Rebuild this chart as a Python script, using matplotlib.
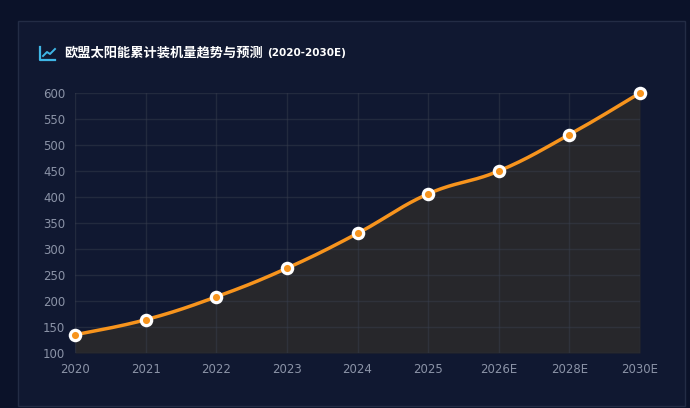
import numpy as np
import matplotlib
matplotlib.use("Agg")
import matplotlib.pyplot as plt
from matplotlib.patches import Rectangle
from matplotlib.lines import Line2D

plt.rcParams['font.family'] = ['Noto Sans CJK SC', 'DejaVu Sans']

categories = ["2020", "2021", "2022", "2023", "2024", "2025", "2026E", "2028E", "2030E"]
values = [135, 164, 208, 263, 330, 406, 450, 520, 600]
y_ticks = [100, 150, 200, 250, 300, 350, 400, 450, 500, 550, 600]
title = "欧盟太阳能累计装机量趋势与预测"
subtitle = "(2020-2030E)"

W, H = 690, 408
fig = plt.figure(figsize=(W / 100, H / 100), dpi=100)
fig.patch.set_facecolor("#0b1229")

# card panel
card = Rectangle((18 / W, 1 - 406 / H), (685 - 18) / W, (406 - 21) / H,
                 transform=fig.transFigure, facecolor="#101831",
                 edgecolor="#232c45", linewidth=1, zorder=-5)
fig.patches.append(card)

ax = fig.add_axes([75 / W, 1 - 353 / H, (640 - 75) / W, (353 - 93) / H])
ax.set_zorder(2)
ax.set_facecolor("none")
for s in ax.spines.values():
    s.set_visible(False)

x = np.arange(len(categories))
y = np.array(values, dtype=float)

# smooth rendering of the line (cubic bezier through the data points)
def smooth_path(xs, ys, t=0.2, n=30):
    px, py = [], []
    N = len(xs)
    for i in range(N - 1):
        x0, y0 = xs[i], ys[i]
        x1, y1 = xs[i + 1], ys[i + 1]
        xp, yp = (xs[i - 1], ys[i - 1]) if i > 0 else (x0, y0)
        xn, yn = (xs[i + 2], ys[i + 2]) if i + 2 < N else (x1, y1)
        c1 = (x0 + (x1 - xp) * t, y0 + (y1 - yp) * t)
        c2 = (x1 - (xn - x0) * t, y1 - (yn - y0) * t)
        s = np.linspace(0, 1, n, endpoint=(i == N - 2))
        bx = (1 - s) ** 3 * x0 + 3 * (1 - s) ** 2 * s * c1[0] + 3 * (1 - s) * s ** 2 * c2[0] + s ** 3 * x1
        by = (1 - s) ** 3 * y0 + 3 * (1 - s) ** 2 * s * c1[1] + 3 * (1 - s) * s ** 2 * c2[1] + s ** 3 * y1
        px.extend(bx)
        py.extend(by)
    return np.array(px), np.array(py)

sx, sy = smooth_path(x, y)

ax.fill_between(sx, sy, 100, color="#27272b", zorder=1, linewidth=0)

ax.set_xlim(0, len(categories) - 1)
ax.set_ylim(100, 600)
ax.set_yticks(y_ticks)
ax.set_xticks(x)
ax.set_xticklabels(categories)
ax.grid(True, color="#3a4050", alpha=0.45, linewidth=1, zorder=2)
ax.set_axisbelow(False)
ax.tick_params(axis="both", length=0, colors="#8b93a7", labelsize=8.5)
ax.tick_params(axis="x", pad=7)
ax.tick_params(axis="y", pad=7)
for lab in ax.get_xticklabels() + ax.get_yticklabels():
    lab.set_family(["DejaVu Sans"])

ax.plot(sx, sy, color="#f7941d", linewidth=2.5, zorder=3, solid_capstyle="round")
ax.scatter(x, y, s=95, color="white", zorder=4, linewidths=0, clip_on=False)
ax.scatter(x, y, s=26, color="#f7941d", zorder=5, linewidths=0, clip_on=False)

# title icon (line chart glyph)
ix0, iy0 = 40, 60
icon_axis = Line2D([ix0 / W, ix0 / W, (ix0 + 15) / W], [1 - 47 / H, 1 - iy0 / H, 1 - iy0 / H],
                   transform=fig.transFigure, color="#3fb6e6", linewidth=1.6)
icon_line = Line2D([(ix0 + 3) / W, (ix0 + 7) / W, (ix0 + 10) / W, (ix0 + 15) / W],
                   [1 - 56 / H, 1 - 52 / H, 1 - 54 / H, 1 - 49 / H],
                   transform=fig.transFigure, color="#3fb6e6", linewidth=1.4)
fig.lines.extend([icon_axis, icon_line])

t1 = fig.text(64 / W, 1 - 53 / H, title, color="white", fontsize=9.5,
              fontweight="bold", va="center", ha="left")
fig.canvas.draw()
bb = t1.get_window_extent()
fig.text((bb.x1 + 4) / W, 1 - 53 / H, subtitle, color="white", fontsize=7.5,
         fontweight="bold", va="center", ha="left", family=["DejaVu Sans"])

fig.savefig("out.png", dpi=100, facecolor=fig.get_facecolor())
